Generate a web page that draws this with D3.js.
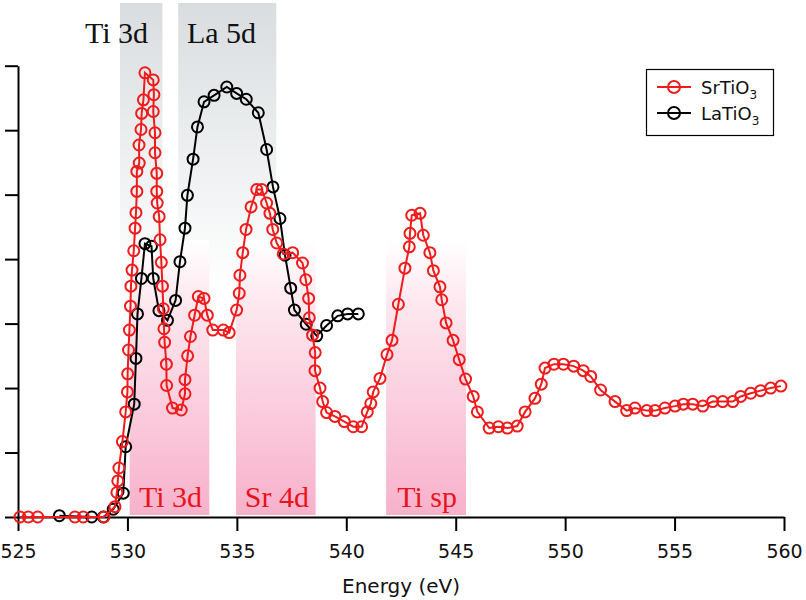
<!DOCTYPE html>
<html><head><meta charset="utf-8">
<script src="https://cdn.jsdelivr.net/npm/d3@7"></script>
<style>html,body{margin:0;padding:0;background:#fff}svg{display:block}</style>
</head><body><div id="chart"></div>
<script>
// SrTiO3 O K-edge spectrum (energy eV, intensity in tick units)
const srEnergy = [525.09,525.47,525.90,527.60,527.98,528.93,529.43,529.52,529.56,529.61,529.77,529.92,530.00,530.01,530.05,530.09,530.14,530.16,530.21,530.29,530.35,530.39,530.43,530.43,530.54,530.53,530.62,530.65,530.73,530.80,531.18,531.21,531.18,531.26,531.26,531.34,531.34,531.36,531.45,531.49,531.55,531.60,531.64,531.67,531.70,531.78,531.79,532.06,532.46,532.63,532.63,532.75,532.88,533.07,533.24,533.50,533.65,533.90,534.38,534.65,534.99,535.11,535.14,535.27,535.42,535.65,535.91,536.14,536.36,536.51,536.64,536.82,537.12,537.55,538.00,538.15,538.28,538.31,538.46,538.58,538.57,538.80,538.92,539.10,539.48,539.91,540.32,540.70,540.96,541.12,541.23,541.54,541.86,542.09,542.38,542.68,542.88,542.91,542.99,543.37,543.52,543.82,543.98,544.28,544.36,544.56,544.88,545.16,545.45,545.80,545.99,546.53,546.95,547.36,547.81,548.17,548.62,548.91,549.08,549.49,549.92,550.39,550.83,551.17,551.62,552.28,552.81,553.19,553.73,554.11,554.56,555.02,555.40,555.83,556.29,556.74,557.20,557.66,558.02,558.48,558.93,559.39,559.86];
const srIntensity = [0,0,0,0,0,0,0.16,0.38,0.56,0.76,1.17,1.63,1.94,2.22,2.59,2.90,3.27,3.58,3.83,4.13,4.48,4.72,5.05,5.36,5.49,5.77,6.01,6.26,6.47,6.89,6.78,6.55,6.29,5.96,5.65,5.33,5.05,4.87,4.66,4.30,3.95,3.58,3.23,2.92,2.71,2.37,2.04,1.69,1.66,1.91,2.13,2.50,2.80,3.13,3.42,3.39,3.13,2.90,2.90,2.86,3.21,3.47,3.75,4.10,4.46,4.81,5.08,5.08,4.87,4.71,4.46,4.25,4.08,4.10,3.94,3.68,3.39,3.09,2.82,2.55,2.27,2.00,1.79,1.62,1.56,1.48,1.40,1.40,1.63,1.76,1.94,2.15,2.52,2.74,3.30,3.86,4.19,4.40,4.68,4.71,4.37,4.10,3.82,3.57,3.37,3.01,2.74,2.44,2.14,1.87,1.63,1.38,1.40,1.38,1.41,1.63,1.84,2.06,2.31,2.37,2.37,2.34,2.27,2.18,1.97,1.79,1.65,1.69,1.65,1.65,1.69,1.72,1.75,1.75,1.72,1.79,1.79,1.79,1.87,1.92,1.96,2.00,2.03];
// LaTiO3
const laEnergy = [526.89,528.37,528.90,529.35,529.81,529.92,530.31,530.39,530.46,530.64,530.80,531.10,531.18,531.44,531.83,532.20,532.40,532.63,532.74,533.00,533.20,533.50,533.96,534.54,534.99,535.43,535.98,536.36,536.65,536.97,537.20,537.46,537.63,538.17,538.65,539.10,539.61,540.06,540.55];
const laIntensity = [0.02,0,0,0.12,0.37,1.09,1.75,2.46,3.15,3.70,4.24,4.20,3.70,3.20,3.05,3.36,3.96,4.48,4.99,5.55,6.05,6.44,6.54,6.67,6.57,6.48,6.27,5.70,5.12,4.63,4.06,3.55,3.21,2.99,2.81,2.97,3.12,3.15,3.15];

const xTicks = [525,530,535,540,545,550,555,560];
const yTicks = [0,1,2,3,4,5,6,7];
const seriesNames = ["SrTiO", "LaTiO"];
const seriesSub = ["3", "3"];
const seriesColors = ["#ee1c1c", "#000000"];

// shaded regions (eV)
const grayBandLabels = ["Ti 3d", "La 5d"];
const grayStarts = [529.66, 532.32];
const grayEnds = [531.6, 536.8];
const grayLabelAt = [529.5, 534.3];
const pinkBandLabels = ["Ti 3d", "Sr 4d", "Ti sp"];
const pinkStarts = [530.1, 534.96, 541.82];
const pinkEnds = [533.74, 538.6, 545.47];

const W = 806, H = 600;
const svg = d3.select("#chart").append("svg").attr("width", W).attr("height", H);
const x = d3.scaleLinear().domain([525, 560]).range([18, 784]);
const y = d3.scaleLinear().domain([0, 7]).range([517, 65.7]);

const defs = svg.append("defs");
const gg = defs.append("linearGradient").attr("id", "grayGrad").attr("x1", 0).attr("y1", 0).attr("x2", 0).attr("y2", 1);
gg.append("stop").attr("offset", "0%").attr("stop-color", "#d9dddf");
gg.append("stop").attr("offset", "55%").attr("stop-color", "#eef0f1");
gg.append("stop").attr("offset", "100%").attr("stop-color", "#ffffff");
const pg = defs.append("linearGradient").attr("id", "pinkGrad").attr("x1", 0).attr("y1", 0).attr("x2", 0).attr("y2", 1);
pg.append("stop").attr("offset", "0%").attr("stop-color", "#ffffff");
pg.append("stop").attr("offset", "25%").attr("stop-color", "#fde6ee");
pg.append("stop").attr("offset", "100%").attr("stop-color", "#f7b1cb");

const grayTop = 3, grayBottom = 290;
svg.append("g").selectAll("rect").data(grayStarts).join("rect")
  .attr("x", (d) => x(d)).attr("width", (d, i) => x(grayEnds[i]) - x(d))
  .attr("y", grayTop).attr("height", grayBottom - grayTop).attr("fill", "url(#grayGrad)");
const pinkTop = 240, pinkBottom = 515;
svg.append("g").selectAll("rect").data(pinkStarts).join("rect")
  .attr("x", (d) => x(d)).attr("width", (d, i) => x(pinkEnds[i]) - x(d))
  .attr("y", pinkTop).attr("height", pinkBottom - pinkTop).attr("fill", "url(#pinkGrad)");

// band labels
const serif = "'Liberation Serif','Times New Roman',serif";
svg.append("g").selectAll("text").data(grayBandLabels).join("text")
  .attr("x", (d, i) => x(grayLabelAt[i])).attr("y", 43)
  .attr("text-anchor", "middle").attr("font-family", serif).attr("font-size", 30)
  .attr("fill", "#111").text((d) => d);
svg.append("g").selectAll("text").data(pinkBandLabels).join("text")
  .attr("x", (d, i) => (x(pinkStarts[i]) + x(pinkEnds[i])) / 2 + 1).attr("y", 507)
  .attr("text-anchor", "middle").attr("font-family", serif).attr("font-size", 30)
  .attr("fill", "#e8141c").text((d) => d);

// axes
const sans = "'DejaVu Sans', Lato, sans-serif";
const xAxis = svg.append("g").attr("transform", "translate(0,517)")
  .call(d3.axisBottom(x).tickValues(xTicks).tickSize(14).tickSizeOuter(0).tickPadding(14).tickFormat(d3.format("d")));
const yAxis = svg.append("g").attr("transform", "translate(18,0)")
  .call(d3.axisLeft(y).tickValues(yTicks).tickSize(13).tickSizeOuter(0).tickFormat(""));
[xAxis, yAxis].forEach(g => {
  g.selectAll("path,line").attr("stroke", "#000").attr("stroke-width", 2);
});
xAxis.selectAll("text").attr("font-family", sans).attr("font-size", 19).attr("fill", "#111");
svg.append("text").attr("x", (x(525) + x(560)) / 2).attr("y", 593).attr("text-anchor", "middle")
  .attr("font-family", sans).attr("font-size", 20).attr("fill", "#111").text("Energy (eV)");

// series
const series = [
  {e: srEnergy, v: srIntensity, c: seriesColors[0]},
  {e: laEnergy, v: laIntensity, c: seriesColors[1]}
];
const line = d3.line().x(d => x(d[0])).y(d => y(d[1]));
series.slice().reverse().forEach(s => {
  const pts = s.e.map((e, i) => [e, s.v[i]]);
  const g = svg.append("g");
  g.append("path").datum(pts).attr("d", line).attr("fill", "none").attr("stroke", s.c).attr("stroke-width", 2);
  g.selectAll("circle").data(pts).join("circle")
    .attr("cx", d => x(d[0])).attr("cy", d => y(d[1])).attr("r", 5.5)
    .attr("fill", "none").attr("stroke", s.c).attr("stroke-width", 2);
});

// legend
const lg = svg.append("g");
lg.append("rect").attr("x", 646.5).attr("y", 69.5).attr("width", 127).attr("height", 66)
  .attr("fill", "#fff").attr("stroke", "#000").attr("stroke-width", 1.2);
seriesNames.forEach((n, i) => {
  const cy = 87 + i * 26;
  lg.append("line").attr("x1", 657).attr("x2", 691).attr("y1", cy).attr("y2", cy).attr("stroke", seriesColors[i]).attr("stroke-width", 2);
  lg.append("circle").attr("cx", 674).attr("cy", cy).attr("r", 6).attr("fill", "none").attr("stroke", seriesColors[i]).attr("stroke-width", 2);
  const t = lg.append("text").attr("x", 701).attr("y", cy + 7).attr("font-family", sans).attr("font-size", 18).attr("fill", "#111");
  t.append("tspan").text(n);
  t.append("tspan").attr("font-size", 12).attr("dy", 5).text(seriesSub[i]);
});
</script></body></html>
